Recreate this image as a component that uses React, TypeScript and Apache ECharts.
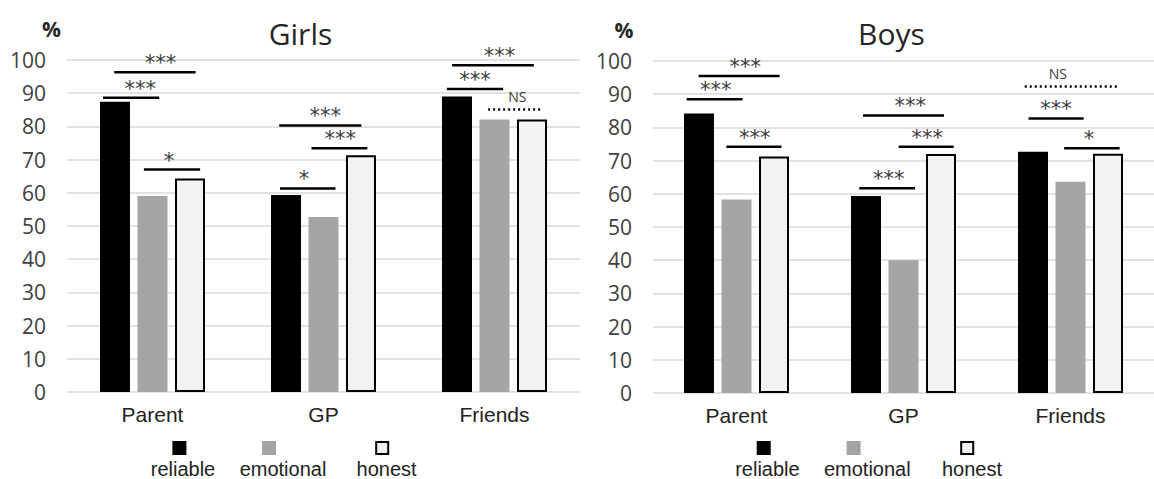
import React, { useEffect, useRef } from "react";
import * as echarts from "echarts";

const categories = ["Parent", "GP", "Friends"];
const seriesNames = ["reliable", "emotional", "honest"];
const panelTitles = ["Girls", "Boys"];
const unitLabel = "%";

const girlsReliable = [87.4, 59.3, 89.0];
const girlsEmotional = [59.0, 52.7, 82.1];
const girlsHonest = [64.3, 71.3, 82.1];

const boysReliable = [84.2, 59.3, 72.7];
const boysEmotional = [58.3, 40.0, 63.6];
const boysHonest = [71.2, 72.0, 72.1];

// significance brackets: [category index, y value, from slot, to slot, label, label shift (slots)]
type Sig = [number, number, number, number, string, number];
const girlsSig: Sig[] = [
  [0, 96.3, -1.02, 1.15, "***", 0.15],
  [0, 88.6, -1.32, 0.18, "***", 0.24],
  [0, 67.0, -0.23, 1.27, "*", -0.08],
  [1, 80.3, -1.18, 1.01, "***", 0.13],
  [1, 73.4, -0.32, 1.17, "***", 0.02],
  [1, 61.3, -1.16, 0.32, "*", -0.1],
  [2, 98.4, -1.13, 1.05, "***", 0.17],
  [2, 91.3, -1.27, 0.23, "***", 0],
  [2, 85.1, -0.17, 1.29, "NS", 0.05],
];
const boysSig: Sig[] = [
  [0, 95.5, -1.01, 1.15, "***", 0.16],
  [0, 88.5, -1.33, 0.16, "***", 0.03],
  [0, 74.2, -0.27, 1.2, "***", 0.02],
  [1, 83.6, -1.08, 1.08, "***", 0.18],
  [1, 74.2, -0.13, 1.34, "***", 0.03],
  [1, 61.7, -1.18, 0.31, "***", 0.04],
  [2, 92.3, -1.22, 1.28, "NS", -0.37],
  [2, 82.7, -1.12, 0.35, "***", 0],
  [2, 73.7, -0.17, 1.31, "*", -0.08],
];

const BAR_W = 30;
const SLOT = 37.5;
const barColors = ["#000000", "#a5a5a5", "#f2f2f2"];

function buildSeries(gi: number, values: number[][], sig: Sig[]) {
  const bars = values.map((v, i) => ({
    type: "bar",
    name: seriesNames[i],
    xAxisIndex: gi,
    yAxisIndex: gi,
    data: v,
    barWidth: BAR_W,
    barGap: "25%",
    z: 2,
    itemStyle:
      i === 2
        ? { color: barColors[i], borderColor: "#000000", borderWidth: 2 }
        : { color: barColors[i] },
  }));
  const custom = {
    type: "custom",
    xAxisIndex: gi,
    yAxisIndex: gi,
    z: 5,
    clip: false,
    silent: true,
    data: sig.map((s) => [s[0], s[1]]),
    encode: { x: 0, y: 1 },
    renderItem: (params: any, api: any) => {
      const s = sig[params.dataIndex];
      const pt = api.coord([api.value(0), api.value(1)]);
      const x1 = pt[0] + s[2] * SLOT;
      const x2 = pt[0] + s[3] * SLOT;
      const ns = s[4] === "NS";
      const mid = (x1 + x2) / 2 + s[5] * SLOT;
      return {
        type: "group",
        children: [
          {
            type: "line",
            shape: { x1, y1: pt[1], x2, y2: pt[1] },
            style: ns
              ? { stroke: "#000", lineWidth: 2.5, lineDash: [2, 3] }
              : { stroke: "#000", lineWidth: 2.5 },
          },
          {
            type: "text",
            style: {
              text: s[4],
              x: mid,
              y: ns ? pt[1] - 13 : pt[1] - 9,
              align: "center",
              verticalAlign: "middle",
              fill: "#3a3a3a",
              font: ns ? "14px 'Open Sans'" : "21px 'DejaVu Sans'",
            },
          },
        ],
      };
    },
  };
  return [...bars, custom];
}

function legendGraphics(xs: number[], labelXs: number[]) {
  const out: any[] = [];
  xs.forEach((cx, i) => {
    const honest = i === 2;
    out.push({
      type: "rect",
      shape: honest
        ? { x: cx - 6, y: 448 - 6, width: 12, height: 12 }
        : { x: cx - 7, y: 448 - 7, width: 14, height: 14 },
      style: honest
        ? { fill: barColors[i], stroke: "#000", lineWidth: 2 }
        : { fill: barColors[i] },
    });
    out.push({
      type: "text",
      style: {
        text: seriesNames[i],
        x: labelXs[i],
        y: 469,
        align: "center",
        verticalAlign: "middle",
        fill: "#222",
        font: "20px 'Liberation Sans'",
      },
    });
  });
  return out;
}

export default function App() {
  const ref = useRef<HTMLDivElement>(null);
  useEffect(() => {
    if (!ref.current) return;
    const chart = echarts.init(ref.current, undefined, { renderer: "svg" });
    const yAxisBase = (gi: number) => ({
      type: "value",
      gridIndex: gi,
      min: 0,
      max: 100,
      interval: 10,
      axisLine: { show: false },
      axisTick: { show: false },
      splitLine: { lineStyle: { color: "#d9d9d9", width: 1.5 } },
      axisLabel: {
        margin: 21,
        color: "#404040",
        fontSize: 21,
        fontFamily: "'Open Sans'",
      },
    });
    const xAxisBase = (gi: number) => ({
      type: "category",
      gridIndex: gi,
      data: categories,
      axisLine: { show: false },
      axisTick: { show: false },
      axisLabel: {
        margin: 12,
        color: "#222",
        fontSize: 21,
        fontFamily: "'Liberation Sans'",
      },
    });
    chart.setOption({
      animation: false,
      backgroundColor: "#ffffff",
      grid: [
        { left: 67, top: 60, width: 513, height: 332 },
        { left: 653, top: 61, width: 510, height: 332 },
      ],
      xAxis: [xAxisBase(0), xAxisBase(1)],
      yAxis: [yAxisBase(0), yAxisBase(1)],
      series: [
        ...buildSeries(0, [girlsReliable, girlsEmotional, girlsHonest], girlsSig),
        ...buildSeries(1, [boysReliable, boysEmotional, boysHonest], boysSig),
      ],
      graphic: [
        {
          type: "text",
          style: { text: panelTitles[0], x: 300.5, y: 33, align: "center", verticalAlign: "middle", fill: "#262626", font: "30px 'Open Sans'" },
        },
        {
          type: "text",
          style: { text: panelTitles[1], x: 891.5, y: 33, align: "center", verticalAlign: "middle", fill: "#262626", font: "30px 'Open Sans'" },
        },
        {
          type: "text",
          style: { text: unitLabel, x: 51.5, y: 29, align: "center", verticalAlign: "middle", fill: "#262626", font: "bold 21px 'Open Sans'" },
        },
        {
          type: "text",
          style: { text: unitLabel, x: 624, y: 30, align: "center", verticalAlign: "middle", fill: "#262626", font: "bold 21px 'Open Sans'" },
        },
        ...legendGraphics([179.4, 269, 382.2], [183, 283, 386.6]),
        ...legendGraphics([763.7, 853.6, 967.2], [767.4, 867.3, 972]),
      ],
    });
    return () => chart.dispose();
  }, []);
  return (
    <div
      ref={ref}
      style={{ position: "fixed", left: 0, top: 0, width: 1154, height: 479 }}
    />
  );
}
